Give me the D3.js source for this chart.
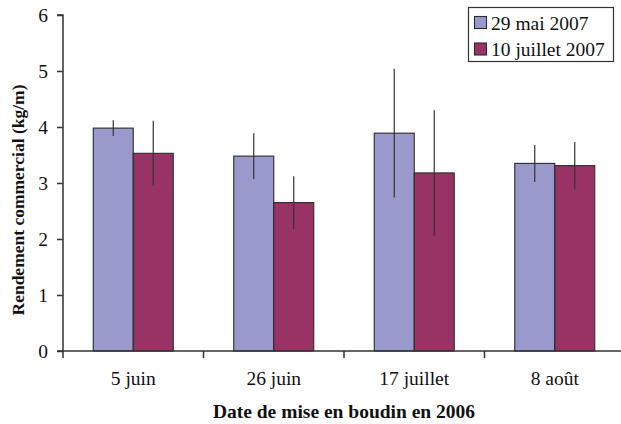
<!DOCTYPE html>
<html><head><meta charset="utf-8">
<script src="https://cdn.jsdelivr.net/npm/d3@7"></script>
<style>body{margin:0;background:#fff}svg{display:block}text{font-family:"Liberation Serif","Times New Roman",serif;fill:#111}</style>
</head><body><svg id="c" width="621" height="424"></svg>
<script>
const categories = ["5 juin", "26 juin", "17 juillet", "8 août"];
const seriesNames = ["29 mai 2007", "10 juillet 2007"];
const mai = [3.98, 3.48, 3.89, 3.35];
const juillet = [3.53, 2.65, 3.18, 3.31];
const maiErr = [0.14, 0.41, 1.15, 0.33];
const juilletErr = [0.58, 0.47, 1.12, 0.42];
const yTicks = [0, 1, 2, 3, 4, 5, 6];
const colors = ["#9999cc", "#993366"];

const svg = d3.select("#c");
const x0 = 63, x1 = 625, y0 = 351, y1 = 15;
const x = d3.scaleBand().domain(categories).range([x0, x1]).paddingInner(0).paddingOuter(0);
const y = d3.scaleLinear().domain([0, 6]).range([y0, y1]);
const inner = d3.scaleBand().domain(seriesNames).range([30.25, x.bandwidth() - 30.25]).padding(0);

const data = [];
categories.forEach((c, i) => {
  data.push({c, s: seriesNames[0], v: mai[i], e: maiErr[i], col: colors[0]});
  data.push({c, s: seriesNames[1], v: juillet[i], e: juilletErr[i], col: colors[1]});
});

svg.selectAll("rect.bar").data(data).enter().append("rect")
  .attr("x", d => x(d.c) + inner(d.s))
  .attr("y", d => y(d.v))
  .attr("width", inner.bandwidth())
  .attr("height", d => y0 - y(d.v))
  .attr("fill", d => d.col)
  .attr("stroke", "#2a2a2a").attr("stroke-width", 1.1);

svg.selectAll("line.err").data(data).enter().append("line")
  .attr("x1", d => x(d.c) + inner(d.s) + inner.bandwidth() / 2)
  .attr("x2", d => x(d.c) + inner(d.s) + inner.bandwidth() / 2)
  .attr("y1", d => y(d.v + d.e))
  .attr("y2", d => y(d.v - d.e))
  .attr("stroke", "#333").attr("stroke-width", 1.2);

// y axis
const ya = svg.append("g").attr("transform", `translate(${x0},0)`)
  .call(d3.axisLeft(y).tickValues(yTicks).tickSize(6).tickPadding(9).tickFormat(d3.format("d")));
ya.attr("font-family", null);
ya.select(".domain").attr("stroke", "#333").attr("stroke-width", 1.5).attr("d", `M-6,${y1}H0V${y0}`);
ya.selectAll(".tick line").attr("stroke", "#333").attr("stroke-width", 1.5);
ya.selectAll(".tick text").style("font-size", "19.5px").attr("fill", "#111");

// x axis
const xa = svg.append("g").attr("transform", `translate(0,${y0})`)
  .call(d3.axisBottom(x).tickSize(0).tickPadding(20));
xa.attr("font-family", null);
xa.select(".domain").attr("stroke", "#333").attr("stroke-width", 1.5).attr("d", `M${x0 - 6},0H${x1}`);
xa.selectAll(".tick text").style("font-size", "19.5px").attr("fill", "#111");
svg.append("g").selectAll("line").data(categories).enter().append("line")
  .attr("x1", d => x(d)).attr("x2", d => x(d))
  .attr("y1", y0).attr("y2", y0 + 7)
  .attr("stroke", "#333").attr("stroke-width", 1.5);

// titles
svg.append("text").attr("x", 344).attr("y", 418).attr("text-anchor", "middle")
  .style("font-size", "19.5px").style("font-weight", "bold").text("Date de mise en boudin en 2006");
svg.append("text").attr("transform", "translate(24,200) rotate(-90)").attr("text-anchor", "middle")
  .style("font-size", "17.5px").style("font-weight", "bold").text("Rendement commercial (kg/m)");

// legend
const lg = svg.append("g");
lg.append("rect").attr("x", 468.5).attr("y", 7.5).attr("width", 145).attr("height", 54)
  .attr("fill", "#fff").attr("stroke", "#333").attr("stroke-width", 1.2);
seriesNames.forEach((s, i) => {
  lg.append("rect").attr("x", 474.5).attr("y", 16.5 + i * 26.5).attr("width", 12).attr("height", 12)
    .attr("fill", colors[i]).attr("stroke", "#2a2a2a").attr("stroke-width", 1.1);
  lg.append("text").attr("x", 491).attr("y", 29.5 + i * 26.5).style("font-size", "19.5px").text(s);
});
</script></body></html>
